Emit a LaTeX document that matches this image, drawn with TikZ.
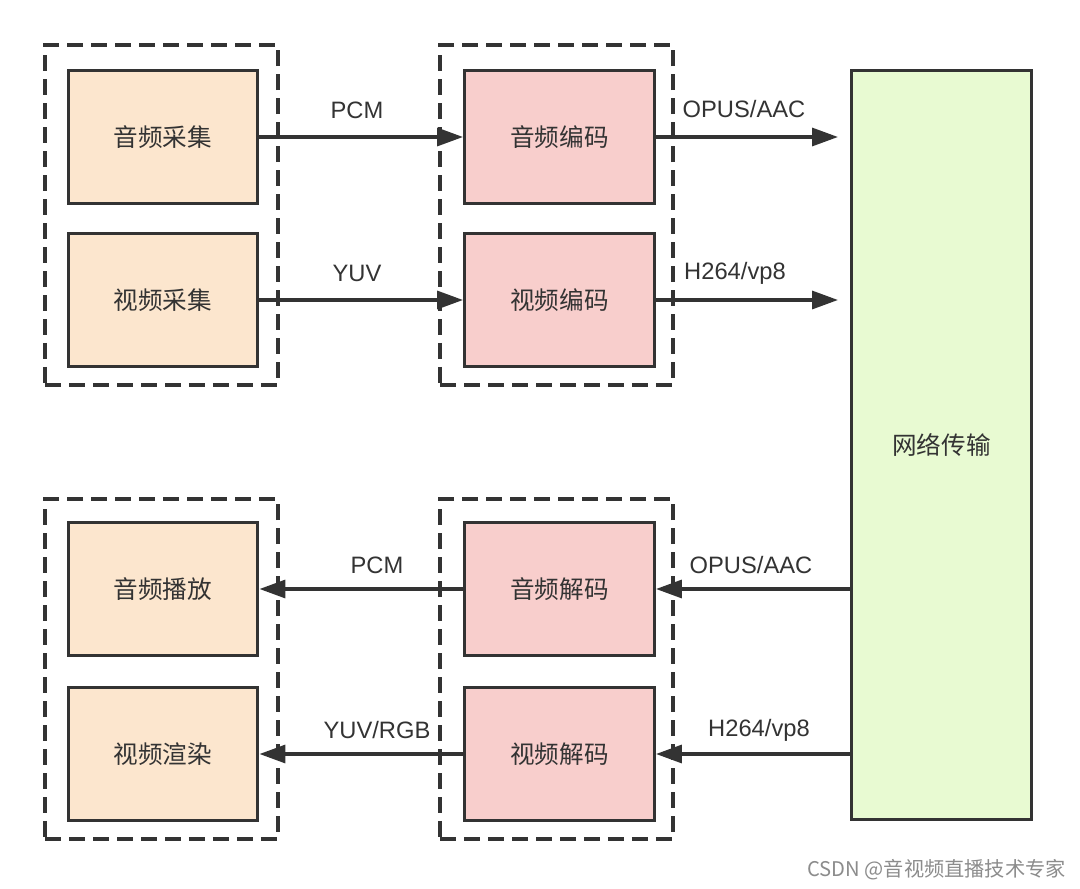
\documentclass[tikz,border=0pt]{standalone}
\usepackage{fontspec}
\setmainfont{Liberation Sans}
\newfontfamily\cjk{Noto Sans CJK SC}
\usetikzlibrary{arrows.meta}
\definecolor{ink}{HTML}{333333}
\definecolor{peach}{HTML}{FCE6CE}
\definecolor{rose}{HTML}{F8CECC}
\definecolor{lime}{HTML}{E8FAD2}
\tikzset{
  px/.style={x=0.02cm,y=-0.02cm},
  unit/.style={draw=ink,line width=1.7pt,minimum width=3.8cm,minimum height=2.66cm,
    inner sep=0pt,font=\cjk\fontsize{14}{16}\selectfont,text=ink},
  srcbox/.style={unit,fill=peach},
  codecbox/.style={unit,fill=rose},
  group/.style={draw=ink,line width=2pt,dash pattern=on 0.32cm off 0.16cm,
    minimum width=4.66cm,minimum height=6.8cm,inner sep=0pt},
  link/.style={draw=ink,line width=1.9pt,-{Triangle[length=0.52cm,width=0.36cm]}},
  lbl/.style={font=\fontsize{13.5}{15}\selectfont,text=ink,inner sep=0pt}
}
\begin{document}
\begin{tikzpicture}[px]
\useasboundingbox (0,0) rectangle (1080,889);
\fill[white] (0,0) rectangle (1080,889);

% dashed groups
\node[group] (gcap) at (161.5,215) {};
\node[group] (genc) at (556.5,215) {};
\node[group] (gout) at (161.5,669) {};
\node[group] (gdec) at (556.5,669) {};

% capture side
\node[srcbox] (acap) at (163,137) {音频采集};
\node[srcbox] (vcap) at (163,300) {视频采集};
% encoders
\node[codecbox] (aenc) at (559.5,137) {音频编码};
\node[codecbox] (venc) at (559.5,300) {视频编码};
% network
\node[draw=ink,line width=1.7pt,fill=lime,minimum width=3.62cm,minimum height=15cm,
  inner sep=0pt,font=\cjk\fontsize{14}{16}\selectfont,text=ink] (net) at (941.5,445) {网络传输};
% decoders
\node[codecbox] (adec) at (559.5,589) {音频解码};
\node[codecbox] (vdec) at (559.5,754) {视频解码};
% playback side
\node[srcbox] (aply) at (163,589) {音频播放};
\node[srcbox] (vren) at (163,754) {视频渲染};

\coordinate (aout) at (838,137);
\coordinate (vout) at (838,300);

% connectors
\draw[link] (acap.east) -- (aenc.west);
\draw[link] (vcap.east) -- (venc.west);
\draw[link] (aenc.east) -- (aout);
\draw[link] (venc.east) -- (vout);
\draw[link] (net.west |- adec.east) -- (adec.east);
\draw[link] (net.west |- vdec.east) -- (vdec.east);
\draw[link] (adec.west) -- (aply.east);
\draw[link] (vdec.west) -- (vren.east);

% labels
\node[lbl] (l1) at (357,110) {PCM};
\node[lbl] (l2) at (357,273) {YUV};
\node[lbl] (l3) at (744,109) {OPUS/AAC};
\node[lbl] (l4) at (735,273) {H264/vp8};
\node[lbl] (l5) at (377,565) {PCM};
\node[lbl] (l6) at (377,730) {YUV/RGB};
\node[lbl] (l7) at (751,565) {OPUS/AAC};
\node[lbl] (l8) at (759,730) {H264/vp8};

% watermark
\node[anchor=east,inner sep=0pt,text=black!45,font=\cjk\fontsize{11.5}{14}\selectfont] (wm) at (1066,870) {CSDN @音视频直播技术专家};
\end{tikzpicture}
\end{document}
